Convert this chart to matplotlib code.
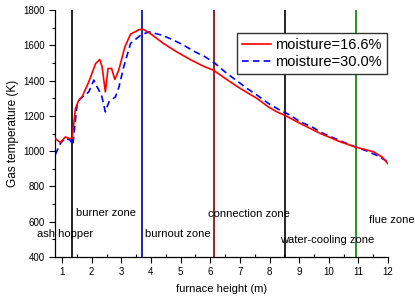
import matplotlib
matplotlib.use("Agg")
import matplotlib.pyplot as plt
from matplotlib.ticker import MultipleLocator

plt.rcParams['font.family'] = ['Liberation Sans', 'DejaVu Sans']

# moisture = 16.6%
x_red = [0.77, 0.94, 1.11, 1.23, 1.34, 1.45, 1.56, 1.68, 1.90, 2.13, 2.27, 2.35, 2.46,
         2.55, 2.67, 2.78, 2.91, 3.12, 3.31, 3.61, 3.73, 3.97, 4.42, 4.87, 5.32, 5.77,
         6.11, 6.51, 7.01, 7.58, 7.97, 8.25, 8.51, 9.04, 9.72, 10.39, 10.90, 11.52,
         11.80, 11.99]
y_red = [1072, 1049, 1081, 1072, 1073, 1242, 1289, 1310, 1393, 1497, 1520, 1478, 1336,
         1469, 1469, 1407, 1459, 1592, 1664, 1690, 1692, 1668, 1611, 1563, 1520, 1482,
         1459, 1412, 1356, 1299, 1250, 1223, 1204, 1157, 1100, 1053, 1024, 996,
         967, 930]

# moisture = 30.0%
x_blue = [0.77, 0.94, 1.11, 1.28, 1.36, 1.51, 1.62, 1.90, 2.07, 2.18, 2.33, 2.46, 2.58,
          2.80, 2.92, 3.08, 3.31, 3.65, 3.93, 4.37, 4.76, 5.10, 5.49, 5.83, 6.17, 6.56,
          6.90, 7.24, 7.58, 7.97, 8.36, 8.70, 9.04, 9.43, 9.77, 10.17, 10.56, 10.90,
          11.29, 11.61, 11.95]
y_blue = [981, 1043, 1075, 1062, 1034, 1270, 1299, 1336, 1403, 1365, 1318, 1223, 1280,
          1308, 1365, 1478, 1611, 1658, 1677, 1658, 1630, 1601, 1563, 1535, 1497, 1441,
          1399, 1356, 1318, 1270, 1232, 1204, 1166, 1138, 1104, 1075, 1047, 1024,
          1001, 977, 945]

zone_lines = [1.33, 3.71, 6.11, 8.51, 10.92]
zone_line_colors = ['black', '#0000a0', '#800000', 'black', '#008000']

zone_names = ['ash hopper', 'burner zone', 'burnout zone', 'connection zone',
              'water-cooling zone', 'flue zone']
zone_x = [0.15, 1.47, 3.79, 5.92, 8.36, 11.37]
zone_y = [529, 650, 529, 642, 499, 608]

fig = plt.figure(figsize=(4.15, 2.98), dpi=100)
ax = fig.add_axes([0.1325, 0.1376, 0.935 - 0.1325, 0.966 - 0.1376])

for xv, c in zip(zone_lines, zone_line_colors):
    ax.axvline(xv, color=c, lw=1.2, zorder=1)

ax.plot(x_red, y_red, color='#ff0000', lw=1.2, label='moisture=16.6%', zorder=3)
ax.plot(x_blue, y_blue, color='#0000ff', lw=1.2, linestyle=(0, (4, 2.5)),
        label='moisture=30.0%', zorder=2)

for name, tx, ty in zip(zone_names, zone_x, zone_y):
    ax.text(tx, ty, name, ha='left', va='center', fontsize=8, clip_on=False, zorder=4)

ax.set_xlim(0.76, 12)
ax.set_ylim(400, 1800)
ax.xaxis.set_major_locator(MultipleLocator(1))
ax.xaxis.set_minor_locator(MultipleLocator(0.5))
ax.yaxis.set_major_locator(MultipleLocator(200))
ax.yaxis.set_minor_locator(MultipleLocator(100))
ax.tick_params(axis='both', which='major', labelsize=7, length=4, width=0.8, direction='out')
ax.tick_params(axis='x', which='minor', length=2.5, width=0.8, direction='in')
ax.tick_params(axis='y', which='minor', length=2.5, width=0.8, direction='out')
ax.spines['top'].set_visible(False)
ax.spines['right'].set_visible(False)
for s in ('left', 'bottom'):
    ax.spines[s].set_linewidth(0.9)

ax.set_xlabel('furnace height (m)', fontsize=8, labelpad=5)
ax.set_ylabel('Gas temperature (K)', fontsize=8.5, labelpad=3)

leg = ax.legend(loc='upper right', bbox_to_anchor=(0.997, 0.907), fontsize=10.5,
                frameon=True, fancybox=False, framealpha=1, edgecolor='#333333',
                handlelength=2.0, handletextpad=0.3, borderpad=0.35, labelspacing=0.2,
                borderaxespad=0)
leg.get_frame().set_linewidth(1.0)

fig.savefig('out.png', dpi=100)
